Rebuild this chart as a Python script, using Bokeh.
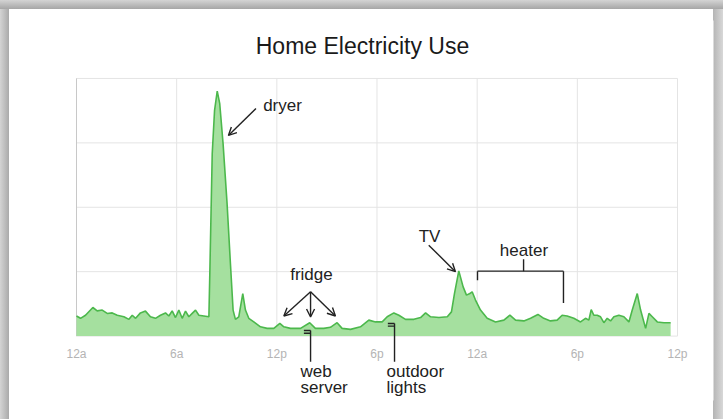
from bokeh.plotting import figure
from bokeh.models import Label, Arrow, OpenHead, FixedTicker, Range1d
from bokeh.embed import file_html
from bokeh.resources import INLINE

# ---- data (hours since midnight, relative power use 0-100) ----
hours = [0.00, 0.24, 0.54, 0.98, 1.24, 1.54, 1.84, 2.14, 2.44, 2.84, 3.14, 3.34, 3.54, 3.83,
         4.13, 4.43, 4.73, 5.03, 5.33, 5.53, 5.73, 5.93, 6.13, 6.33, 6.53, 6.73, 6.93, 7.13,
         7.33, 7.63, 7.93, 7.99, 8.13, 8.27, 8.43, 8.58, 8.78, 9.02, 9.22, 9.38, 9.52, 9.72,
         9.96, 10.12, 10.32, 10.62, 11.02, 11.42, 11.82, 12.18, 12.42, 12.82, 13.42, 13.97,
         14.31, 14.81, 15.21, 15.61, 15.91, 16.41, 17.01, 17.51, 17.91, 18.31, 18.61, 19.01,
         19.31, 19.71, 20.21, 20.61, 20.91, 21.21, 21.71, 22.21, 22.46, 22.64, 22.90, 23.16,
         23.36, 23.56, 23.70, 23.90, 24.20, 24.60, 25.10, 25.60, 25.96, 26.30, 26.80, 27.20,
         27.64, 27.99, 28.39, 28.79, 29.09, 29.39, 29.79, 30.19, 30.49, 30.69, 30.83, 30.99,
         31.19, 31.39, 31.59, 31.79, 31.99, 32.19, 32.49, 32.79, 33.09, 33.29, 33.59, 33.79,
         34.09, 34.29, 34.49, 34.79, 35.19, 35.59]
usage = [7.8, 6.9, 8.1, 11.1, 9.8, 10.1, 8.8, 9.0, 8.1, 7.5, 6.5, 8.1, 6.9, 9.0,
         9.7, 7.5, 6.9, 8.1, 9.0, 7.8, 9.8, 7.2, 10.1, 6.9, 9.7, 7.5, 8.8, 10.1,
         8.1, 7.8, 7.5, 25.6, 70.8, 87.6, 95.1, 90.2, 74.7, 51.4, 28.2, 10.1, 6.5, 7.5,
         16.5, 10.1, 6.9, 5.5, 3.6, 3.0, 3.0, 4.9, 3.6, 3.0, 3.0, 5.2,
         3.0, 3.0, 3.4, 5.2, 3.0, 2.6, 3.6, 6.2, 5.5, 5.5, 7.5, 9.0,
         8.1, 6.5, 6.5, 7.2, 9.0, 7.5, 7.2, 7.5, 9.4, 16.5, 25.3, 19.1,
         15.9, 16.5, 17.2, 14.0, 10.1, 6.9, 5.5, 6.2, 8.1, 6.2, 5.9, 6.9,
         8.4, 6.9, 5.9, 6.2, 8.1, 7.8, 6.9, 5.5, 6.9, 6.2, 10.3, 8.1,
         8.1, 7.5, 5.2, 6.9, 5.9, 7.5, 8.1, 7.5, 5.5, 10.1, 16.5, 10.1,
         3.0, 8.8, 7.5, 5.5, 5.2, 5.2]

tick_hours = [0, 6, 12, 18, 24, 30, 36]
tick_labels = ["12a", "6a", "12p", "6p", "12a", "6p", "12p"]
grid_levels = [0, 25, 50, 75, 100]
title_text = "Home Electricity Use"

FONT = "Liberation Sans"
INK = "#222222"
GRID = "#e4e4e4"

p = figure(width=723, height=419, x_range=Range1d(-3.3545, 38.1565), y_range=Range1d(-25, 122.5),
           output_backend="svg", toolbar_location=None,
           min_border_left=20, min_border_right=10, min_border_top=20, min_border_bottom=19)
# grey shadowed card edge behind the (transparent) border area
p.styles = {
    "background-color": "white",
    "background-image": ("linear-gradient(to bottom, #d4d4d4, #a6a6a6), "
                         "linear-gradient(to right, #d4d4d4, #aaaaaa), "
                         "linear-gradient(to left, #d8d8d8, #b4b4b4)"),
    "background-size": "100% 9px, 9px 100%, 10px 100%",
    "background-position": "left top, left top, right top",
    "background-repeat": "no-repeat",
}
p.border_fill_color = None
p.background_fill_color = "white"
p.outline_line_color = None

# x axis drawn at the zero line of the chart
p.xaxis.fixed_location = 0
p.xaxis.ticker = FixedTicker(ticks=tick_hours)
p.xaxis.major_label_overrides = {h: lab for h, lab in zip(tick_hours, tick_labels)}
p.xaxis.axis_line_color = None
p.xaxis.major_tick_line_color = None
p.xaxis.minor_tick_line_color = None
p.xaxis.major_label_standoff = 5
p.xaxis.major_label_text_color = "#b4b4b4"
p.xaxis.major_label_text_font = FONT
p.xaxis.major_label_text_font_size = "12px"
p.xgrid.visible = False
p.yaxis.visible = False
p.ygrid.visible = False

# chart grid, limited to the 0..36 h x 0..100 band
n_t = len(tick_hours)
n_g = len(grid_levels)
p.segment(x0=tick_hours, y0=[grid_levels[0]] * n_t, x1=tick_hours, y1=[grid_levels[-1]] * n_t,
          line_color=GRID, line_width=1)
p.segment(x0=[tick_hours[0]] * n_g, y0=grid_levels, x1=[tick_hours[-1]] * n_g, y1=grid_levels,
          line_color=GRID, line_width=1)
p.segment(x0=[0], y0=[0], x1=[0], y1=[100], line_color="#c8c8c8", line_width=1)

p.varea(x=hours, y1=0, y2=usage, fill_color="#a5e09f", fill_alpha=1.0)
p.line(x=hours, y=usage, line_color="#4cb84c", line_width=1.6)

def label(x, y, text, size="17px", align="left", color=INK, font=FONT):
    p.add_layout(Label(x=x, y=y, text=text, text_font=font, text_font_size=size,
                       text_color=color, text_align=align, text_baseline="alphabetic"))

def seg(x0, y0, x1, y1, head=True):
    p.add_layout(Arrow(x_start=x0, y_start=y0, x_end=x1, y_end=y1,
                       line_color=INK, line_width=1.4,
                       end=OpenHead(size=8, line_color=INK, line_width=1.4) if head else None))

# title
label(17.13, 112.6, title_text, size="23px", align="center", color="#1a1a1a")

# dryer
label(11.18, 89.6, "dryer")
seg(10.75, 88.3, 9.10, 77.9)
# fridge
label(12.80, 23.8, "fridge")
seg(14.02, 17.2, 12.42, 7.8)
seg(14.02, 17.2, 14.02, 7.4)
seg(14.02, 17.2, 15.51, 7.8)
# TV
label(20.50, 38.7, "TV")
seg(21.10, 35.3, 22.70, 25.0)
# heater bracket
label(25.36, 33.3, "heater")
seg(26.78, 29.8, 26.78, 25.2, head=False)
seg(24.02, 25.2, 29.17, 25.2, head=False)
seg(24.02, 25.2, 24.02, 21.7, head=False)
seg(29.17, 25.2, 29.17, 12.8, head=False)
# web server
seg(14.02, 2.2, 14.02, -10.0, head=False)
seg(13.62, 2.2, 14.02, 2.2, head=False)
seg(13.62, 1.1, 14.02, 1.1, head=False)
label(13.42, -13.7, "web")
label(13.42, -20.1, "server")
# outdoor lights
seg(19.05, 4.9, 19.05, -10.0, head=False)
seg(18.65, 4.9, 19.05, 4.9, head=False)
seg(18.65, 3.85, 19.05, 3.85, head=False)
label(18.57, -13.7, "outdoor")
label(18.57, -20.1, "lights")

open("out.html", "w").write(file_html(p, INLINE))
